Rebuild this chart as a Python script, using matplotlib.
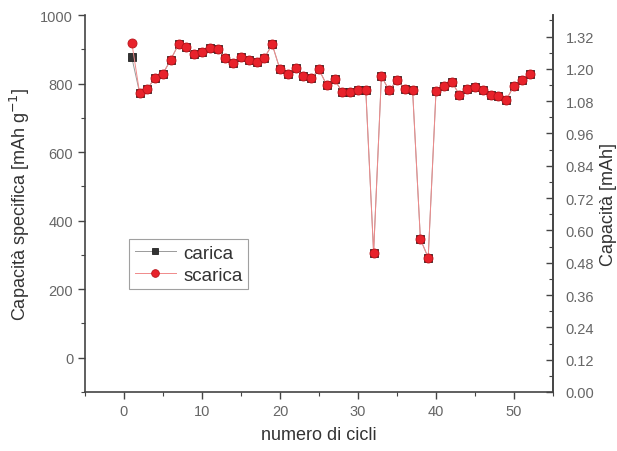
import numpy as np
import matplotlib
matplotlib.use("Agg")
import matplotlib.pyplot as plt
from matplotlib.ticker import MultipleLocator

# capacity per cycle, mAh/g
cicli = list(range(1, 53))
scarica = [919, 773, 785, 817, 829, 870, 915, 907, 885, 893,
           905, 900, 875, 859, 878, 868, 864, 875, 914, 841,
           829, 844, 822, 815, 841, 795, 812, 774, 776, 780,
           780, 307, 821, 780, 810, 785, 780, 346, 292, 777,
           793, 805, 768, 783, 790, 780, 768, 763, 753, 793,
           810, 829]
carica = [876, 773, 785, 817, 829, 870, 915, 907, 885, 893,
          905, 900, 875, 859, 878, 868, 864, 875, 914, 841,
          829, 844, 822, 815, 841, 795, 812, 774, 776, 780,
          780, 307, 821, 780, 810, 785, 780, 346, 292, 777,
          793, 805, 768, 783, 790, 780, 768, 763, 753, 793,
          810, 829]

plt.rcParams['font.family'] = ['Liberation Sans', 'DejaVu Sans']
text_col = '#333333'
tick_col = '#666666'

fig = plt.figure(figsize=(6.17, 4.52), dpi=100, facecolor='white')
ax = fig.add_axes([85/617, 1-393/452, 468/617, 377/452])

ax.plot(cicli, carica, color='#9a9a9a', lw=0.7, marker='s', ms=5.5,
        mfc='#333333', mec='#222222', mew=0.6, label='carica', zorder=2)
ax.plot(cicli, scarica, color='#f08a8a', lw=0.7, marker='o', ms=6.5,
        mfc='#e8222b', mec='#b8141a', mew=0.6, label='scarica', zorder=3)

ax.set_xlim(-5, 55)
ax.set_ylim(-100, 1000)
ax.xaxis.set_major_locator(MultipleLocator(10))
ax.xaxis.set_minor_locator(MultipleLocator(5))
ax.yaxis.set_major_locator(MultipleLocator(200))
ax.yaxis.set_minor_locator(MultipleLocator(100))
ax.spines['top'].set_visible(False)
for s in ['left', 'bottom', 'right']:
    ax.spines[s].set_color('#444444')
    ax.spines[s].set_linewidth(1.2)
ax.tick_params(which='both', direction='out', colors='#444444',
               labelcolor=tick_col, labelsize=10.5)
ax.tick_params(which='major', length=5, width=1)
ax.tick_params(which='minor', length=3, width=0.8)

ax.set_xlabel('numero di cicli', fontsize=13, color=text_col, labelpad=6)
ax.set_ylabel('Capacità specifica [mAh g$^{-1}$]', fontsize=13,
              color=text_col, labelpad=6)

# absolute capacity on the right
ax2 = ax.twinx()
ax2.set_ylim(0, 1.40)
ax2.yaxis.set_major_locator(MultipleLocator(0.12))
ax2.yaxis.set_minor_locator(MultipleLocator(0.06))
ax2.yaxis.set_major_formatter(plt.FormatStrFormatter('%.2f'))
ax2.spines['top'].set_visible(False)
ax2.spines['left'].set_visible(False)
ax2.spines['bottom'].set_visible(False)
ax2.spines['right'].set_color('#444444')
ax2.spines['right'].set_linewidth(1.2)
ax2.tick_params(which='both', direction='in', colors='#444444',
                labelcolor=tick_col, labelsize=10.5, pad=9)
ax2.tick_params(which='major', length=5, width=1)
ax2.tick_params(which='minor', length=3, width=0.8)
ax2.set_ylabel('Capacità [mAh]', fontsize=13, color=text_col, labelpad=4)

leg = ax.legend(loc='upper left', bbox_to_anchor=(44/468, (393-240)/377),
                fontsize=13.5, frameon=True, fancybox=False,
                handlelength=2.2, handletextpad=0.4, borderpad=0.3,
                labelspacing=0.25, borderaxespad=0, markerscale=0.85)
leg.get_frame().set_edgecolor('#888888')
leg.get_frame().set_linewidth(0.8)
for t in leg.get_texts():
    t.set_color(text_col)

fig.savefig('out.png', dpi=100)
